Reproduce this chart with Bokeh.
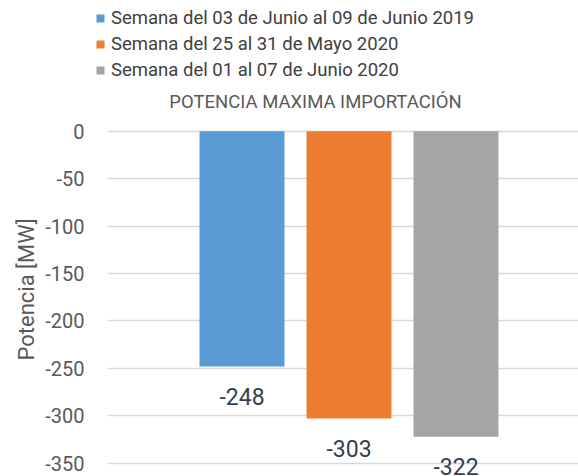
from bokeh.plotting import figure
from bokeh.models import Range1d, FixedTicker, Legend, LegendItem, Label, Title, ColumnDataSource
from bokeh.core.properties import value
from bokeh.embed import file_html
from bokeh.resources import INLINE

series = ["Semana del 03 de Junio al 09 de Junio 2019",
          "Semana del 25 al 31 de Mayo 2020",
          "Semana del 01 al 07 de Junio 2020"]
values = [-248, -303, -322]
colors = ["#5B9BD5", "#ED7D31", "#A5A5A5"]
positions = [1, 2, 3]
yticks = [0, -50, -100, -150, -200, -250, -300, -350]
title_text = "POTENCIA MAXIMA IMPORTACIÓN"
ylabel = "Potencia [MW]"

FONT = "Roboto"

p = figure(width=578, height=476, output_backend="svg", toolbar_location=None,
           x_range=Range1d(-0.4159, 4.145), y_range=Range1d(-364, 137.7),
           min_border_left=90, min_border_right=0, min_border_top=0, min_border_bottom=0)
p.outline_line_color = None
p.background_fill_color = "white"
p.border_fill_color = "white"

p.xaxis.visible = False
p.xgrid.visible = False
p.yaxis.ticker = FixedTicker(ticks=yticks)
p.yaxis.major_label_overrides = {t: str(t) for t in yticks}
p.ygrid.ticker = FixedTicker(ticks=yticks)
p.ygrid.cross_bounds = (-0.257, 4.145)
p.ygrid.grid_line_color = "#D9D9D9"
p.ygrid.grid_line_width = 1.5
p.yaxis.axis_line_color = None
p.yaxis.major_tick_line_color = None
p.yaxis.minor_tick_line_color = None
p.yaxis.major_label_text_font = FONT
p.yaxis.major_label_text_font_size = "20px"
p.yaxis.major_label_text_color = "#595959"
p.yaxis.major_label_standoff = 0

ytitle = Title(text=ylabel, align="left", offset=116, standoff=8,
               text_font=FONT, text_font_size="22px", text_font_style="normal",
               text_color="#595959")
p.add_layout(ytitle, "left")

src = ColumnDataSource(dict(x=positions, top=values, color=colors, name=series,
                            lab=[str(v) for v in values]))
items = []
for i in range(len(series)):
    r = p.vbar(x=[positions[i]], top=[values[i]], bottom=0, width=0.794,
               fill_color=colors[i], line_color=None)
    items.append(LegendItem(label=series[i], renderers=[r]))

p.text(x="x", y="top", text="lab", source=src, text_align="center",
       text_baseline="middle", y_offset=30, text_font=value(FONT),
       text_font_size="23px", text_color="#333F50")

legend = Legend(items=items, location=(5, 395), orientation="vertical",
                label_text_font=FONT, label_text_font_size="18.5px",
                label_text_color="#404040", glyph_width=10, glyph_height=10,
                label_height=21, spacing=4, padding=0, margin=0,
                label_standoff=6, border_line_color=None,
                background_fill_alpha=0)
p.add_layout(legend)

title = Label(x=315 - 90, y=476 - 101, x_units="screen", y_units="screen",
              text=title_text, text_font=FONT, text_font_size="18.5px",
              text_color="#595959", text_align="center", text_baseline="middle")
p.add_layout(title)

open("out.html", "w").write(file_html(p, INLINE))
